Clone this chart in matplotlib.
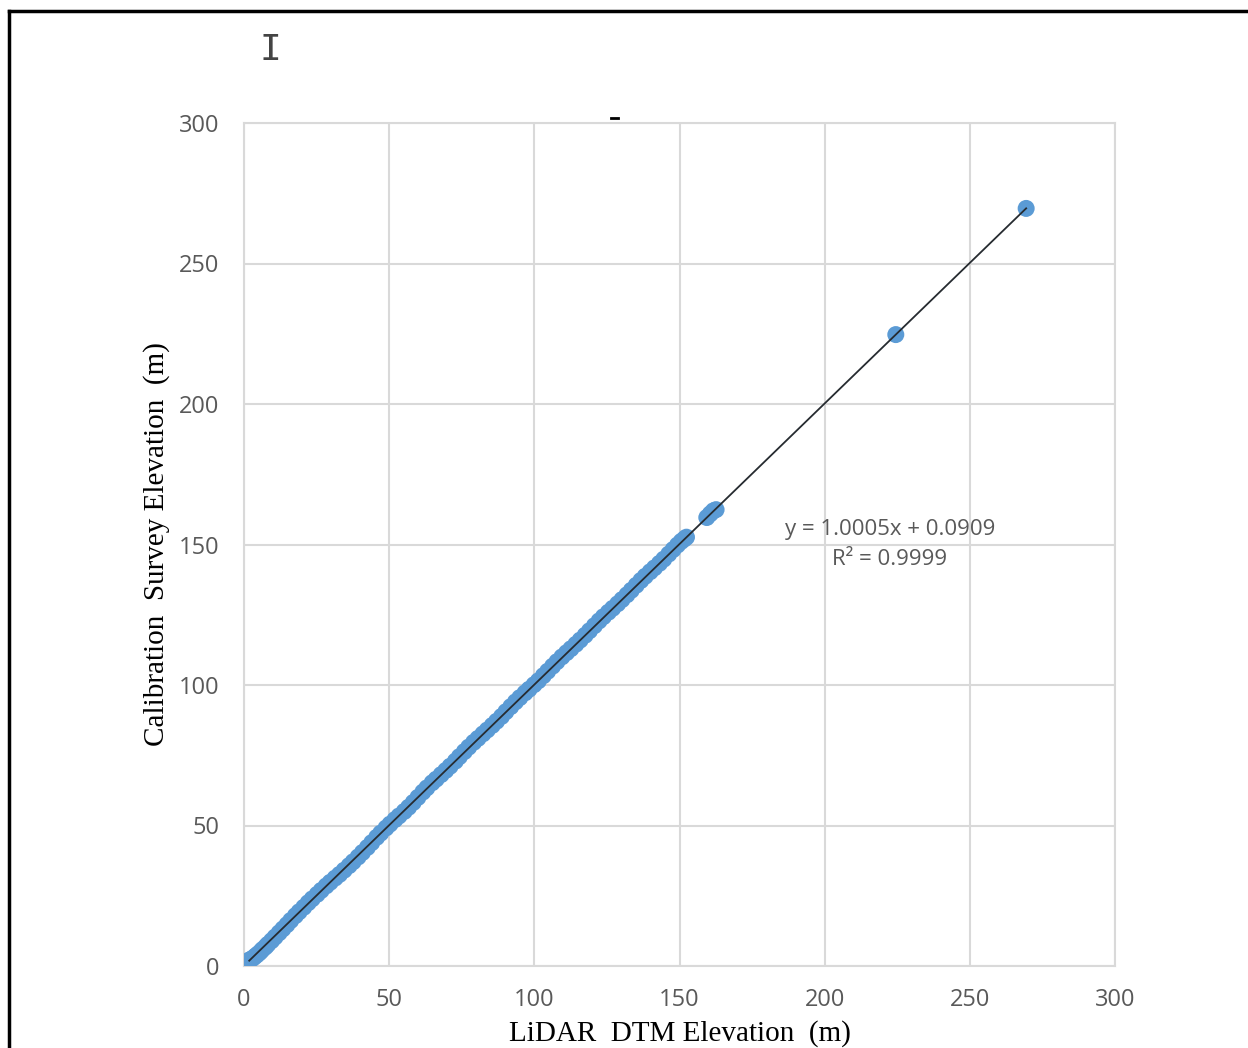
import numpy as np
import matplotlib
matplotlib.use('Agg')
from matplotlib import pyplot as plt
from matplotlib.lines import Line2D

# LiDAR DTM elevation vs calibration survey elevation (m)
lidar = [1.8, 2.4, 3.1, 3.9, 4.6, 5.5, 6.3, 7.4, 8.2, 9.5, 10.7, 12.1, 13.4,
         14.8, 16.1, 17.7, 19.0, 20.6, 22.1, 23.5, 25.2, 26.6, 28.3, 29.7,
         31.4, 32.9, 34.5, 36.2, 37.6, 39.3, 40.8, 42.5, 44.0, 45.7, 47.1,
         48.9, 50.3, 52.0, 53.4, 55.2, 56.7, 58.3, 59.9, 61.6, 63.0, 64.8,
         66.2, 67.9, 69.5, 71.0, 72.8, 74.2, 75.9, 77.4, 79.1, 80.6, 82.3,
         83.8, 85.5, 87.0, 88.7, 90.2, 91.9, 93.5, 95.0, 96.8, 98.2, 99.9,
         101.4, 103.1, 104.6, 106.3, 107.8, 109.5, 111.1, 112.6, 114.3, 115.8,
         117.5, 119.0, 120.7, 122.3, 123.8, 125.5, 127.0, 128.7, 130.2, 131.9,
         133.4, 135.1, 136.7, 138.2, 139.9, 141.4, 143.1, 144.6, 146.3, 147.8,
         149.3, 150.6, 151.7, 152.4, 159.4, 160.6, 161.7, 162.6, 224.5, 269.4]
survey = [2.1, 2.4, 2.8, 3.5, 4.1, 4.9, 5.8, 6.8, 7.7, 9.0, 10.3, 11.8, 13.2,
          14.7, 16.2, 17.9, 19.3, 20.9, 22.5, 23.9, 25.5, 26.9, 28.5, 29.8,
          31.3, 32.6, 34.1, 35.7, 37.1, 38.8, 40.4, 42.2, 43.9, 45.8, 47.3,
          49.1, 50.5, 52.1, 53.4, 55.0, 56.5, 58.2, 60.0, 61.9, 63.4, 65.2,
          66.5, 68.1, 69.6, 71.1, 72.9, 74.5, 76.3, 77.9, 79.6, 81.0, 82.6,
          84.0, 85.6, 87.1, 88.8, 90.5, 92.3, 94.0, 95.5, 97.2, 98.5, 100.1,
          101.5, 103.3, 104.9, 106.7, 108.3, 110.0, 111.5, 112.9, 114.5, 116.0,
          117.7, 119.3, 121.1, 122.8, 124.3, 125.9, 127.3, 128.9, 130.4, 132.1,
          133.7, 135.5, 137.2, 138.7, 140.3, 141.7, 143.3, 144.8, 146.6, 148.2,
          149.8, 151.1, 152.0, 152.6, 159.6, 160.9, 162.0, 162.4, 224.7, 269.6]

# linear trendline shown on the chart
slope = 1.0005
intercept = 0.0909
r2 = 0.9999

ticks = [0, 50, 100, 150, 200, 250, 300]

grey = '#d9d9d9'
label_grey = '#595959'

fig = plt.figure(figsize=(12.48, 10.48), dpi=100)
ax = fig.add_axes([244 / 1248, 1 - 966 / 1048, 871 / 1248, 843 / 1048])

ax.scatter(lidar, survey, s=150, color='#5b9bd5', edgecolors='none', zorder=3)

xs = np.array([min(lidar), max(lidar)])
ax.plot(xs, slope * xs + intercept, color='#262b30', lw=1.3, zorder=4)

ax.set_xlim(0, 300)
ax.set_ylim(0, 300)
ax.set_xticks(ticks)
ax.set_yticks(ticks)
ax.grid(True, color=grey, lw=1.5, zorder=0)
ax.set_axisbelow(True)
for s in ax.spines.values():
    s.set_color(grey)
    s.set_linewidth(1.5)
ax.tick_params(length=0, labelsize=17, labelcolor=label_grey)
ax.tick_params(axis='y', pad=18)
ax.tick_params(axis='x', pad=16)
for t in ax.get_xticklabels() + ax.get_yticklabels():
    t.set_fontfamily('Open Sans')

ax.set_xlabel('LiDAR  DTM Elevation  (m)', fontsize=21,
              fontfamily='Liberation Serif', color='black')
ax.set_ylabel('Calibration  Survey Elevation  (m)', fontsize=21,
              fontfamily='Liberation Serif', color='black')
ax.xaxis.set_label_coords(0.5, -0.064)
ax.yaxis.set_label_coords(-0.085, 0.5)

ax.text(222.5, 155.5, 'y = %.4fx + %.4f' % (slope, intercept), ha='center',
        va='center', fontsize=16, color=label_grey, fontfamily='Open Sans')
ax.text(222.5, 144.5, 'R² = %.4f' % r2, ha='center', va='center',
        fontsize=16, color=label_grey, fontfamily='Open Sans')

# leftovers seen in the scanned figure
fig.text(270 / 1248, 1 - 50 / 1048, 'I', ha='center', va='center',
         fontsize=26, fontfamily='DejaVu Sans Mono', fontweight='light',
         color='#444444')
fig.add_artist(Line2D([611 / 1248, 618 / 1248], [1 - 118 / 1048, 1 - 118 / 1048],
                      color='black', lw=2))

# outer frame
fig.add_artist(Line2D([9 / 1248, 9 / 1248], [0, 1 - 11 / 1048], color='black', lw=2.5))
fig.add_artist(Line2D([9 / 1248, 1], [1 - 11 / 1048, 1 - 11 / 1048], color='black', lw=2.5))

fig.savefig('out.png', dpi=100, facecolor='white')
